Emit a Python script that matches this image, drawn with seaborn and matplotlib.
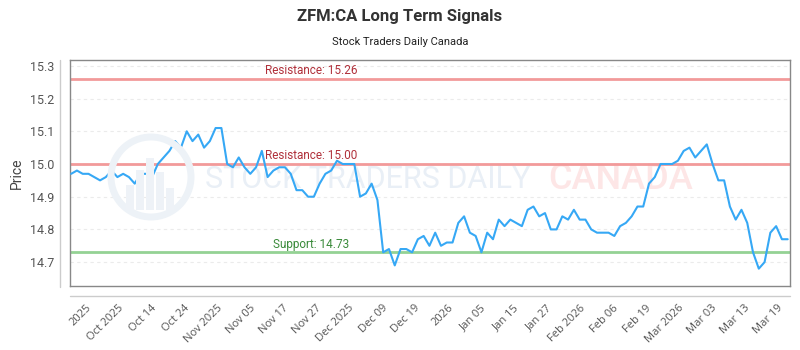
import numpy as np
import pandas as pd
import matplotlib
matplotlib.use("Agg")
import matplotlib.pyplot as plt
import seaborn as sns
from matplotlib.lines import Line2D
from matplotlib.patches import Circle, Rectangle

# ---- data ----
prices = [
    14.97, 14.98, 14.97, 14.97, 14.96, 14.95, 14.96, 14.98, 14.96, 14.97,
    14.96, 14.94, 14.97, 14.97, 14.96, 15.00, 15.02, 15.04, 15.07, 15.05,
    15.10, 15.07, 15.09, 15.05, 15.07, 15.11, 15.11, 15.00, 14.99, 15.02,
    14.99, 14.97, 14.99, 15.04, 14.96, 14.98, 14.99, 14.99, 14.97, 14.92,
    14.92, 14.90, 14.90, 14.94, 14.97, 14.98, 15.01, 15.00, 15.00, 15.00,
    14.90, 14.91, 14.94, 14.89, 14.73, 14.74, 14.69, 14.74, 14.74, 14.73,
    14.77, 14.78, 14.75, 14.79, 14.75, 14.76, 14.76, 14.82, 14.84, 14.79,
    14.78, 14.73, 14.79, 14.77, 14.83, 14.81, 14.83, 14.82, 14.81, 14.86,
    14.87, 14.84, 14.85, 14.80, 14.80, 14.84, 14.83, 14.86, 14.83, 14.83,
    14.80, 14.79, 14.79, 14.79, 14.78, 14.81, 14.82, 14.84, 14.87, 14.87,
    14.94, 14.96, 15.00, 15.00, 15.00, 15.01, 15.04, 15.05, 15.02, 15.04,
    15.06, 15.00, 14.95, 14.95, 14.87, 14.83, 14.86, 14.82, 14.73, 14.68,
    14.70, 14.79, 14.81, 14.77, 14.77,
]
tick_labels = ["2025", "Oct 2025", "Oct 14", "Oct 24", "Nov 2025", "Nov 05",
               "Nov 17", "Nov 27", "Dec 2025", "Dec 09", "Dec 19", "2026",
               "Jan 05", "Jan 15", "Jan 27", "Feb 2026", "Feb 06", "Feb 19",
               "Mar 2026", "Mar 03", "Mar 13", "Mar 19"]
resistance_levels = [15.26, 15.00]
support_levels = [14.73]
y_ticks = [14.7, 14.8, 14.9, 15.0, 15.1, 15.2, 15.3]

title = "ZFM:CA Long Term Signals"
subtitle = "Stock Traders Daily Canada"

df = pd.DataFrame({"idx": np.arange(len(prices)), "price": prices})

sns.set_theme(style="white")
plt.rcParams["font.family"] = ["Roboto", "DejaVu Sans"]

fig = plt.figure(figsize=(8, 3.5), dpi=100)
ax = fig.add_axes([70 / 800, 1 - 286 / 350, 720 / 800, 226 / 350])

# watermark
ax.text(0.413, 0.47, "STOCK TRADERS DAILY", transform=ax.transAxes,
        ha="center", va="center", fontsize=22, color="#e9eff6",
        family=["Roboto", "DejaVu Sans"], zorder=0)
ax.text(0.765, 0.47, "CANADA", transform=ax.transAxes,
        ha="center", va="center", fontsize=26, fontweight="medium",
        color="#fde6e6", family=["Roboto", "DejaVu Sans"], zorder=0)
circ = Circle((1.51, 1.73), 0.40, transform=fig.dpi_scale_trans,
              fill=False, ec="#edf2f7", lw=5, zorder=0)
fig.patches.append(circ)
for bx, bh in [(1.30, 0.25), (1.40, 0.40), (1.50, 0.52), (1.60, 0.38), (1.70, 0.22)]:
    fig.patches.append(Rectangle((bx - 0.04, 1.40), 0.08, bh,
                                 transform=fig.dpi_scale_trans,
                                 fc="#eef2f7", ec="none", zorder=0))

for r in resistance_levels:
    ax.axhline(r, color="#f29a9a", lw=2, zorder=2)
    ax.text(41.5, r + 0.005, f"Resistance: {r:.2f}", ha="center", va="bottom",
            fontsize=8.5, color="#b0303a", zorder=3)
for s in support_levels:
    ax.axhline(s, color="#94d294", lw=2, zorder=2)
    ax.text(41.5, s + 0.005, f"Support: {s:.2f}", ha="center", va="bottom",
            fontsize=8.5, color="#3a8a3a", zorder=3)

sns.lineplot(data=df, x="idx", y="price", ax=ax, color="#36a8f5", lw=1.5, zorder=4)

ax.set_xlim(-0.2, len(prices) - 0.6)
ax.set_ylim(14.627, 15.318)
ax.set_yticks(y_ticks)
ax.set_yticklabels([f"{v:.1f}" for v in y_ticks])
ax.grid(axis="y", color="#ebebeb", ls=(0, (3, 3)), lw=0.8)
ax.set_axisbelow(True)

xt = np.linspace(3.8, 123.5, len(tick_labels))
ax.set_xticks(xt)
ax.set_xticklabels(tick_labels, rotation=45, ha="right",
                   family=["Open Sans", "DejaVu Sans"])
ax.tick_params(axis="x", labelsize=8, colors="#555555", pad=12, length=0)
ax.tick_params(axis="y", labelsize=9, colors="#555555", pad=11, length=0)
ax.set_xlabel("")
ax.set_ylabel("Price", fontsize=10, color="#444444", labelpad=5)

for sp in ax.spines.values():
    sp.set_color("#888888")
    sp.set_linewidth(1)

fig.lines.append(Line2D([60 / 800, 60 / 800], [1 - 60 / 350, 1 - 287 / 350],
                        transform=fig.transFigure, color="#cccccc", lw=1))
fig.lines.append(Line2D([70 / 800, 790 / 800], [1 - 296 / 350, 1 - 296 / 350],
                        transform=fig.transFigure, color="#cccccc", lw=1))

fig.text(0.5, 1 - 16 / 350, title, ha="center", va="center",
         fontsize=12, fontweight="bold", color="#333333")
fig.text(0.5, 1 - 42 / 350, subtitle, ha="center", va="center",
         fontsize=8, color="#222222")

fig.savefig("out.png", dpi=100)
